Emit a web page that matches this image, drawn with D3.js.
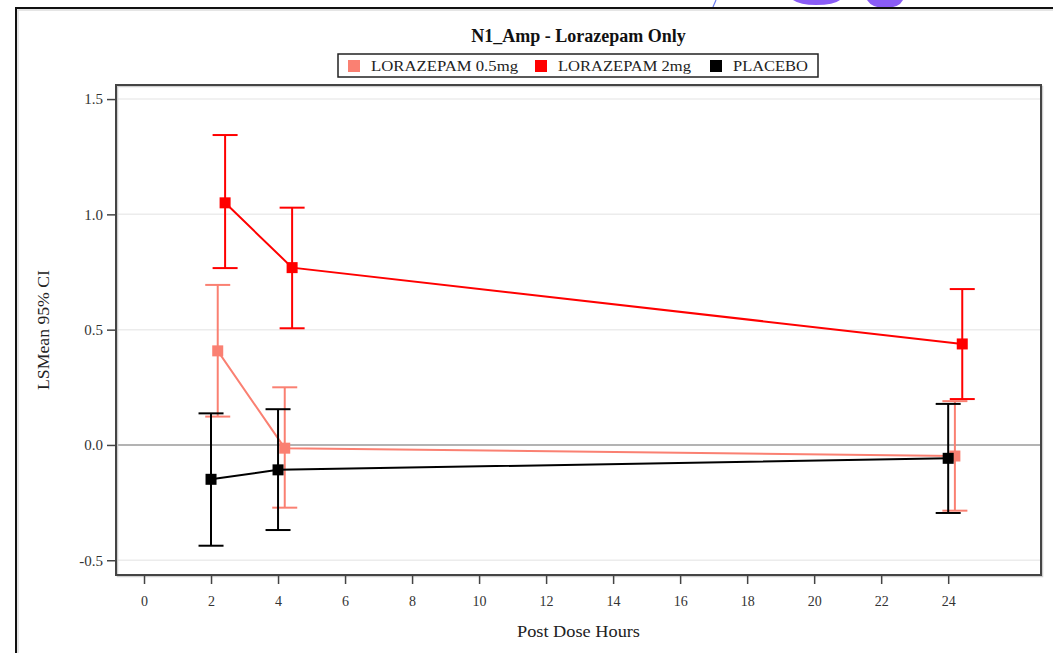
<!DOCTYPE html>
<html>
<head>
<meta charset="utf-8">
<script src="https://cdn.jsdelivr.net/npm/d3@7"></script>
<style>
  html, body { margin: 0; padding: 0; background: #fff; }
  svg { display: block; }
  text { font-family: "Liberation Serif", "Times New Roman", serif; }
</style>
</head>
<body>
<svg id="chart" width="1053" height="653"></svg>
<script>
// ---- data ----
const hours = [2, 4, 24];
const seriesNames = ["LORAZEPAM 0.5mg", "LORAZEPAM 2mg", "PLACEBO"];
const seriesColors = ["#FA8072", "#FF0000", "#000000"];
const seriesDodge = [0.2, 0.42, 0];           // cluster offset in hours
const meanLow  = [0.408, -0.014, -0.048];      // LORAZEPAM 0.5mg
const ciLowLo  = [0.123, -0.272, -0.285];
const ciLowHi  = [0.694, 0.250, 0.190];
const meanHigh = [1.050, 0.769, 0.438];        // LORAZEPAM 2mg
const ciHighLo = [0.767, 0.506, 0.199];
const ciHighHi = [1.344, 1.029, 0.676];
const meanPbo  = [-0.149, -0.108, -0.058];     // PLACEBO
const ciPboLo  = [-0.437, -0.369, -0.295];
const ciPboHi  = [0.137, 0.155, 0.178];
const xTicks = [0, 2, 4, 6, 8, 10, 12, 14, 16, 18, 20, 22, 24];
const yTicks = [-0.5, 0.0, 0.5, 1.0, 1.5];
const yTickLabels = ["-0.5", "0.0", "0.5", "1.0", "1.5"];
const titleText = "N1_Amp - Lorazepam Only";
const xLabel = "Post Dose Hours";
const yLabel = "LSMean 95% CI";

const series = [
  { name: seriesNames[0], color: seriesColors[0], dodge: seriesDodge[0], mean: meanLow,  lo: ciLowLo,  hi: ciLowHi },
  { name: seriesNames[1], color: seriesColors[1], dodge: seriesDodge[1], mean: meanHigh, lo: ciHighLo, hi: ciHighHi },
  { name: seriesNames[2], color: seriesColors[2], dodge: seriesDodge[2], mean: meanPbo,  lo: ciPboLo,  hi: ciPboHi }
];
const drawOrder = [0, 1, 2];

// ---- layout ----
const svg = d3.select("#chart");
const plot = { left: 116, right: 1041, top: 85, bottom: 575 };

const x = d3.scaleLinear().domain([-0.836, 26.77]).range([plot.left, plot.right]);
const y = d3.scaleLinear().domain([-0.564, 1.561]).range([plot.bottom, plot.top]);

// screenshot artefacts along the top edge
svg.append("path").attr("d", "M713,7 L716,0").attr("stroke", "#6a7cf0").attr("stroke-width", 1.2).attr("fill", "none");
svg.append("path").attr("d", "M793,0 Q800,5 816,5 Q834,5 840,0 Z").attr("fill", "#8a5cf6");
svg.append("path").attr("d", "M867,0 Q872,8 885,8 Q899,8 903,0 Z").attr("fill", "#8a5cf6");

// outer page border
svg.append("path").attr("d", "M16,653 L16,8 L1053,8").attr("fill", "none").attr("stroke", "#111").attr("stroke-width", 2);
svg.append("path").attr("d", "M18,653 L18,10 L1053,10").attr("fill", "none").attr("stroke", "#ddd").attr("stroke-width", 1.5);

// gridlines
svg.append("g").selectAll("line").data(yTicks.filter(v => v !== 0)).join("line")
  .attr("x1", plot.left).attr("x2", plot.right)
  .attr("y1", d => y(d)).attr("y2", d => y(d))
  .attr("stroke", "#ececec").attr("stroke-width", 1.5);

// zero reference
svg.append("line")
  .attr("x1", plot.left).attr("x2", plot.right)
  .attr("y1", y(0)).attr("y2", y(0))
  .attr("stroke", "#9a9a9a").attr("stroke-width", 1.5);

// frame
svg.append("rect")
  .attr("x", plot.left + 1.5).attr("y", plot.top + 1.5)
  .attr("width", plot.right - plot.left).attr("height", plot.bottom - plot.top)
  .attr("fill", "none").attr("stroke", "#cfcfcf").attr("stroke-width", 1.5);
svg.append("rect")
  .attr("x", plot.left).attr("y", plot.top)
  .attr("width", plot.right - plot.left).attr("height", plot.bottom - plot.top)
  .attr("fill", "none").attr("stroke", "#444").attr("stroke-width", 2);

// axes
const yAxis = d3.axisLeft(y).tickValues(yTicks)
  .tickFormat((d, i) => yTickLabels[i]).tickSize(9).tickPadding(4);
const gy = svg.append("g").attr("transform", `translate(${plot.left},0)`).call(yAxis);
gy.select(".domain").remove();
gy.selectAll(".tick line").attr("stroke", "#444").attr("stroke-width", 1.5);
gy.selectAll(".tick text").attr("fill", "#333").style("font-size", "15px")
  .style("font-family", "'Liberation Serif', serif");

const xAxis = d3.axisBottom(x).tickValues(xTicks).tickFormat(d3.format("d")).tickSize(9).tickPadding(12);
const gx = svg.append("g").attr("transform", `translate(0,${plot.bottom})`).call(xAxis);
gx.select(".domain").remove();
gx.selectAll(".tick line").attr("stroke", "#444").attr("stroke-width", 1.5);
gx.selectAll(".tick text").attr("fill", "#333").style("font-size", "14px")
  .style("font-family", "'Liberation Serif', serif");

// axis labels
svg.append("text").attr("x", (plot.left + plot.right) / 2).attr("y", 637)
  .attr("text-anchor", "middle").attr("fill", "#222").style("font-size", "17px")
  .attr("textLength", 123).attr("lengthAdjust", "spacingAndGlyphs").text(xLabel);
svg.append("text").attr("transform", `translate(49,${(plot.top + plot.bottom) / 2}) rotate(-90)`)
  .attr("text-anchor", "middle").attr("fill", "#222").style("font-size", "17px")
  .attr("textLength", 120).attr("lengthAdjust", "spacingAndGlyphs").text(yLabel);

// title
svg.append("text").attr("x", (plot.left + plot.right) / 2).attr("y", 42)
  .attr("text-anchor", "middle").attr("fill", "#111")
  .style("font-size", "18px").style("font-weight", "bold").text(titleText);

// legend
const lg = svg.append("g");
lg.append("rect").attr("x", 338).attr("y", 54).attr("width", 480).attr("height", 23)
  .attr("fill", "#fff").attr("stroke", "#222").attr("stroke-width", 1.5);
const legendX = [348, 535, 710];
const legendW = [147, 133, 75];
series.forEach((s, i) => {
  lg.append("rect").attr("x", legendX[i]).attr("y", 60).attr("width", 12).attr("height", 12).attr("fill", s.color);
  lg.append("text").attr("x", legendX[i] + 23).attr("y", 71)
    .attr("fill", "#222").style("font-size", "14px")
    .attr("textLength", legendW[i]).attr("lengthAdjust", "spacingAndGlyphs")
    .text(s.name);
});

// series
const capHalf = 12.5;
const markerSize = 11;
drawOrder.forEach(idx => {
  const s = series[idx];
  const pts = hours.map((h, i) => ({ h: h + s.dodge, m: s.mean[i], lo: s.lo[i], hi: s.hi[i] }));
  const g = svg.append("g");
  g.append("path").datum(pts)
    .attr("d", d3.line().x(d => x(d.h)).y(d => y(d.m)))
    .attr("fill", "none").attr("stroke", s.color).attr("stroke-width", 2);
  g.selectAll("line.v").data(pts).join("line").attr("class", "v")
    .attr("x1", d => x(d.h)).attr("x2", d => x(d.h))
    .attr("y1", d => y(d.lo)).attr("y2", d => y(d.hi))
    .attr("stroke", s.color).attr("stroke-width", 2);
  g.selectAll("line.hi").data(pts).join("line").attr("class", "hi")
    .attr("x1", d => x(d.h) - capHalf).attr("x2", d => x(d.h) + capHalf)
    .attr("y1", d => y(d.hi)).attr("y2", d => y(d.hi))
    .attr("stroke", s.color).attr("stroke-width", 2);
  g.selectAll("line.lo").data(pts).join("line").attr("class", "lo")
    .attr("x1", d => x(d.h) - capHalf).attr("x2", d => x(d.h) + capHalf)
    .attr("y1", d => y(d.lo)).attr("y2", d => y(d.lo))
    .attr("stroke", s.color).attr("stroke-width", 2);
  g.selectAll("rect").data(pts).join("rect")
    .attr("x", d => x(d.h) - markerSize / 2).attr("y", d => y(d.m) - markerSize / 2)
    .attr("width", markerSize).attr("height", markerSize)
    .attr("fill", s.color);
});
</script>
</body>
</html>
